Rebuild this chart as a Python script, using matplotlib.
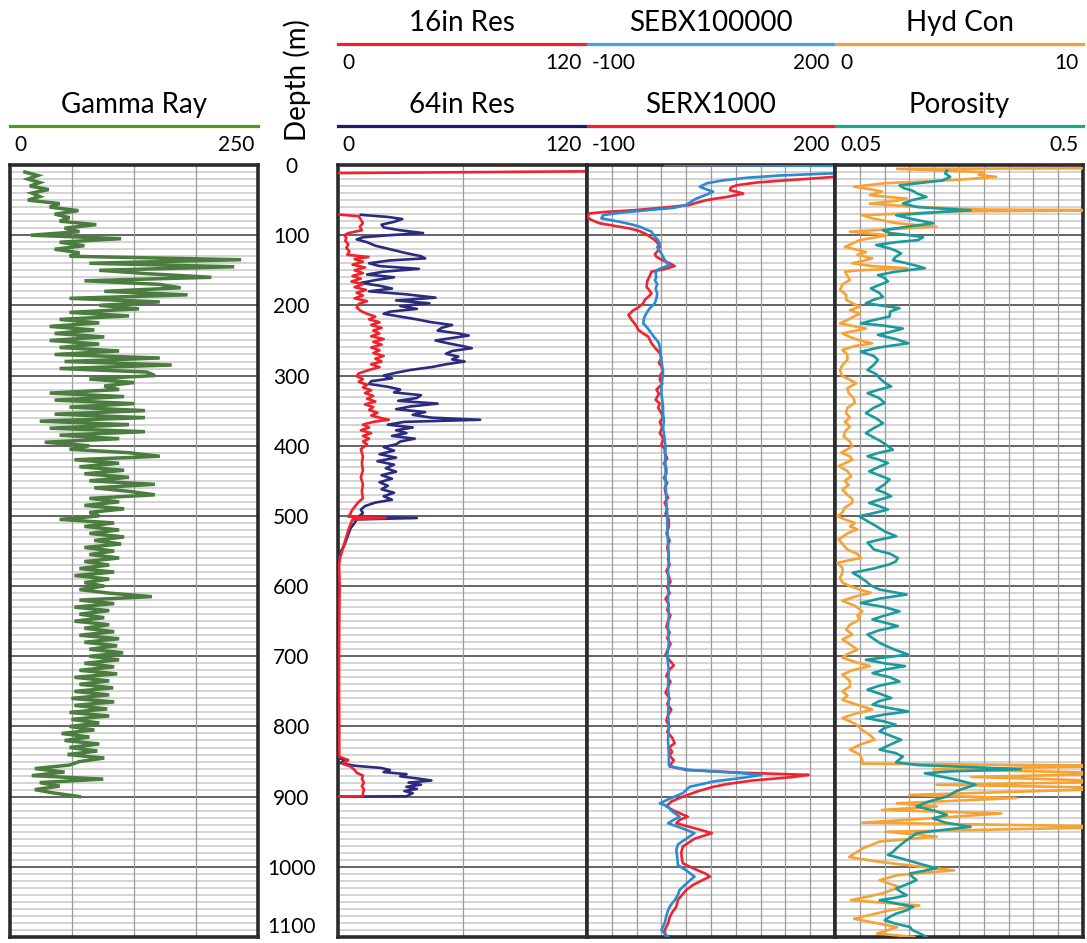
import numpy as np
import matplotlib.pyplot as plt
from matplotlib.lines import Line2D

plt.rcParams['font.family'] = ['Lato', 'DejaVu Sans']

# ---- data (depth in m) ----
gamma_start, gamma_step = 10, 5
gamma = [15, 28, 18, 30, 20, 39, 22, 30, 18, 50, 40, 69, 45, 60, 50, 87, 55, 70, 21, 112,
         50, 75, 45, 70, 60, 233, 80, 226, 90, 140, 203, 75, 150, 172, 95, 179, 60, 151, 90, 130,
         60, 120, 50, 90, 40, 85, 45, 95, 40, 90, 50, 110, 45, 151, 55, 163, 50, 138, 146, 80,
         125, 95, 110, 40, 115, 45, 125, 60, 136, 45, 136, 30, 120, 40, 136, 50, 110, 35, 80, 60,
         120, 151, 65, 110, 70, 115, 75, 120, 80, 146, 85, 120, 146, 80, 110, 75, 115, 80, 90, 50,
         105, 75, 110, 80, 115, 85, 112, 75, 105, 80, 110, 75, 100, 70, 105, 65, 100, 75, 95, 70,
         100, 143, 70, 105, 65, 100, 70, 95, 65, 100, 75, 105, 70, 110, 75, 108, 80, 114, 80, 110,
         75, 105, 70, 108, 65, 100, 70, 104, 65, 100, 62, 105, 65, 98, 60, 100, 62, 90, 60, 85,
         52, 80, 55, 90, 60, 88, 58, 95, 70, 60, 25, 55, 22, 94, 30, 50, 25, 45, 70]

nan = float('nan')
res16_pts = [(9.0, 122), (11.5, 0), (12, nan), (70.5, 0), (73, 10), (78, 11), (83, 12), (88, 10.5),
             (93, 11.5), (97, 5), (100, 3), (104, 4), (108, 3.5), (113, 5), (118, 4), (123, 5.5),
             (128, 4.5), (131, 14.7), (134, 8), (138, 12), (142, 7), (146, 13), (150, 8), (154, 12),
             (158, 7), (162, 11), (166, 6.5), (170, 12), (174, 8), (178, 13.5), (182, 9), (186, 12),
             (190, 8), (194, 14), (198, 10), (203, 9), (208, 11), (212, 14), (216, 18), (220, 15),
             (224, 20), (228, 16), (232, 21), (236, 17), (240, 20), (244, 16), (248, 22), (252, 17),
             (256, 21), (260, 16), (264, 20), (268, 17), (272, 22), (276, 18), (280, 21), (284, 16),
             (288, 20), (292, 15), (297, 10), (301, 9), (305, 12), (309, 10), (313, 14), (317, 12),
             (321, 16), (325, 13), (329, 17), (333, 14), (337, 18), (341, 13), (345, 17), (349, 15),
             (353, 19), (357, 16), (360, 20), (363, 24.5), (366, 17), (370, 12), (374, 15), (378, 11),
             (382, 16), (386, 12), (390, 15), (394, 12), (398, 14), (405, 11), (415, 12), (425, 11.5),
             (435, 12), (445, 11), (455, 12), (465, 11.5), (475, 12), (480, 10), (487, 8), (493, 6.5),
             (497, 6), (501, 5), (503, 23), (505, 7), (512, 6), (520, 5), (530, 4), (540, 3),
             (550, 2), (560, 1), (570, 0.5), (600, 0.8), (650, 0.6), (700, 0.5), (750, 0.5),
             (800, 0.6), (843, 0.6), (848, 5), (853, 2), (857, 6), (862, 8), (866, 9), (870, 12),
             (875, 11.5), (880, 12.5), (885, 11.5), (890, 12.5), (895, 12), (899.5, 12), (900, 0)]

res64_pts = [(71, 11), (74, 24), (77, 31), (81, 27), (85, 21), (89, 22), (93, 30), (97, 41),
             (100, 25), (103, 12), (106, 9), (110, 14), (115, 18), (120, 25), (125, 32), (130, 40),
             (133, 42), (136, 25), (140, 15), (144, 20), (148, 39), (152, 22), (156, 14), (160, 27),
             (164, 18), (168, 11), (172, 20), (176, 26), (180, 15), (184, 32), (189, 47), (193, 28),
             (197, 44), (201, 30), (205, 38), (209, 25), (212, 22), (216, 30), (220, 38), (224, 45),
             (228, 55), (232, 50), (236, 48), (240, 58), (243, 63), (246, 56), (250, 47), (254, 53),
             (258, 60), (261, 64.5), (265, 55), (269, 52), (273, 58), (277, 55), (280, 61), (284, 52),
             (288, 45), (292, 35), (296, 28), (300, 22), (304, 26), (308, 16), (312, 15), (316, 24),
             (320, 30), (324, 27), (328, 40), (332, 38), (336, 29), (340, 48), (344, 35), (348, 28),
             (352, 42), (356, 36), (360, 45), (363, 68.5), (366, 32), (370, 24), (374, 36), (378, 28),
             (382, 33), (386, 26), (390, 37), (394, 30), (398, 28), (402, 22), (407, 27), (412, 20),
             (417, 28), (422, 19), (427, 27), (432, 23), (437, 28), (442, 21), (447, 26), (452, 20),
             (457, 24), (462, 21), (467, 27), (472, 22), (477, 26), (481, 18), (486, 13), (491, 11),
             (496, 12), (501, 10), (503, 38), (505, 9), (510, 8), (518, 6), (526, 5), (534, 4),
             (542, 3), (550, 1.5), (555, 0.5), (560, 0.3), (600, 0.2), (700, 0.2), (800, 0.2),
             (845, 0.3), (848, 4), (852, 1), (856, 8), (859, 20.4), (862, 25), (865, 22), (868, 33),
             (871, 30), (874, 38), (877, 45), (880, 34), (883, 40), (886, 33), (889, 38), (892, 32),
             (895, 36), (899.5, 33), (900, 0)]

sebx_pts = [(0, -5), (1.5, 260), (8, 260), (12, 195), (15, 133), (18, 95), (21.8, 65), (26, 45),
            (31, 36.5), (35, 45), (38, 52.6), (42, 45), (48, 32), (53, 25), (57, 20), (61, 5),
            (64.5, -28), (68, -60), (71.5, -80.6), (76, -82.6), (81, -60), (85, -45), (88, -36),
            (95, -22), (102, -18), (107, -14), (112, -12), (117, -15), (121, -13), (126, -10),
            (131, -8), (135.5, -6), (140, -3), (142.6, 0), (146, -8), (150, -16), (155, -17),
            (160, -16), (164, -18), (170, -15), (176, -17), (183, -15), (190, -16), (197, -18),
            (204, -24), (211, -28), (218, -31), (225.6, -32), (232, -27), (240, -22), (245, -19),
            (249, -16), (254, -13), (259, -12), (268, -11), (278, -10), (287, -9), (297, -8),
            (306, -9), (315, -10), (325, -10), (335, -9), (345, -8), (353.6, -8), (365, -7),
            (375, -8), (382, -7), (392, -6), (401, -5), (415, -5.5), (430, -5), (448, -5),
            (465, -4.5), (480, -4), (496, -3), (515, -3), (538, -2), (562, -1), (580, -2),
            (600, -1.5), (620, -2), (640, -1), (660, -2), (680, -1), (700, -3), (720, -1),
            (740, -2), (760, -1), (780, -2), (800, -1), (820, -2), (840, -1), (855, -1), (858, 5),
            (862, 24), (866, 80), (869, 111), (873, 90), (878, 55), (886, 24), (895, 16), (903, 0),
            (909.5, -12), (914, -2), (920, 2), (928.6, 12), (933, 5), (938, -2), (945, 15),
            (952, 30), (960, 20), (968, 10), (976, 8), (985, 9), (997.6, 10), (1005, 20),
            (1014, 30), (1022, 22), (1033, 12), (1040, 10), (1047.6, 6), (1055, 1), (1062, -2),
            (1070, -4), (1080, -6), (1090, -10), (1100, -2)]

serx_pts = [(0, -4), (1, 260), (8, 280), (14, 220), (17, 198), (19.5, 170), (21.8, 141), (25, 105),
            (28.9, 81), (32, 74), (36, 73), (39, 84), (40.8, 89), (43, 80), (45.5, 69), (48, 55),
            (50, 44.6), (54, 32), (57, 24), (61, -10), (64.5, -44), (67, -80), (69, -97), (74, -100),
            (78, -95), (83, -85), (87, -65), (90.5, -48), (94, -37), (97.6, -30), (102, -24),
            (107, -18), (112, -14), (116.6, -12), (122, -14), (127, -18), (130.8, -16), (135, -10),
            (140, 0), (144, 6), (148, -5), (152, -22), (158, -24), (165, -27), (173.5, -28),
            (178, -25), (183, -22), (188, -26), (192, -30), (197, -32), (203, -38), (208, -45),
            (213.7, -50), (217, -48), (220.8, -46), (225, -43), (230, -40), (235, -38), (240, -32),
            (244.5, -26), (249, -24), (254, -22), (260, -18), (264, -15), (268, -12), (275, -10),
            (282, -13), (287, -10), (293, -8), (299, -11), (306, -12), (312, -9), (320, -16),
            (326, -13), (334.6, -17), (340, -12), (346, -14), (353.6, -10), (360, -8), (366, -12),
            (374, -9), (382, -12), (390, -7), (398, -10), (405, -6), (410, -6), (418, -3), (425, -7),
            (432, -4), (439, -4), (446, -7), (453, -3), (460, -6), (467, -5), (474, -2), (481, -6),
            (490, -3), (497, -5), (505, -1), (515, -1), (525, -4), (535, 0), (545, -3), (555, -1),
            (562, -2), (570, 0), (578, -4), (586, -1), (594, 1), (602, -3), (610, 0), (618, -5),
            (626, -1), (634, -3), (642, 1), (650, -2), (658, -4), (666, 0), (674, -3), (682, 1),
            (690, -2), (698, -5), (706, 0), (713, 5), (720, -1), (728, -4), (736, 1), (744, -2),
            (752, -5), (760, 0), (768, -3), (776, 2), (784, -2), (792, -4), (800, 0), (808, -3),
            (816, 3), (824, 6), (830, -1), (836, 3), (842, 0), (848, 5), (853, 2), (857, 0),
            (862, 20), (866, 90), (869, 168), (872, 150), (877, 100), (882, 70), (886, 53),
            (892, 35), (900, 16), (907, 2), (914, -4), (920, 5), (928.6, 22), (933, 12), (938, 8),
            (945, 30), (952, 51), (960, 30), (971, 16), (980, 14), (990, 15), (995, 16), (1003, 30),
            (1010, 44), (1014, 48.6), (1020, 38), (1026, 28), (1033, 20), (1040, 15), (1047, 10),
            (1057, 8), (1065, 3), (1072, 0), (1081, -2), (1090, -6), (1100, -5)]

hydcon_pts = [(4.5, 12), (5.5, 2.5), (10, 6.0), (14, 5.8), (17, 6.5), (21, 5.0), (26, 2.0), (31, 0.77),
              (35, 1.5), (38, 1.9), (43, 1.4), (48, 2.9), (51, 2.5), (55, 1.4), (59, 3.0), (62, 4.9),
              (63.5, 6), (64.5, 12), (66, 5), (71.5, 1.1), (76, 1.5), (83, 2.5), (88, 4.1), (91, 2.5),
              (95, 0.6), (100, 2.1), (104, 1.5), (107, 1.0), (112, 0.7), (116.6, 0.4), (120, 0.8),
              (124, 1.25), (128, 0.9), (133, 1.5), (136, 1.2), (140, 0.7), (144, 1.5), (147, 2.9),
              (150, 1.0), (152, 0.4), (158, 0.5), (164, 0.6), (170, 0.3), (178, 0.2), (185, 0.45),
              (192, 0.45), (197, 0.7), (202, 1.0), (207, 0.6), (212, 1.0), (216, 0.75), (221, 0.5),
              (225.6, 0.2), (230, 0.8), (233, 1.25), (237, 0.7), (240, 0.3), (245, 0.6), (250, 1.0),
              (254, 1.5), (258, 0.8), (263.5, 0.3), (270, 0.5), (277.7, 0.5), (285, 0.3), (292, 0.2),
              (301, 0.3), (306, 0.6), (311, 0.85), (318, 0.5), (325, 0.55), (332, 0.75), (339, 0.8),
              (346, 0.5), (353.6, 0.45), (360, 0.6), (366, 0.4), (372.5, 0.6), (380, 0.4),
              (386.7, 0.35), (394, 0.6), (401, 0.7), (405, 0.5), (410, 0.25), (415, 0.6), (420, 0.7),
              (425, 0.4), (429, 0.15), (436, 0.5), (443.6, 0.65), (450, 0.4), (456, 0.55),
              (462.6, 0.3), (470, 0.5), (476, 0.7), (481.5, 0.7), (488, 0.4), (495, 0.3),
              (500.5, 0.1), (505, 0.4), (510, 0.8), (515, 0.6), (519, 0.9), (525, 0.5), (533.6, 0.15),
              (540, 0.3), (548, 0.5), (554, 0.9), (560, 1.05), (563, 0.6), (567, 0.1), (574, 0.3),
              (581, 0.3), (588, 0.2), (595, 0.3), (600, 0.6), (605, 1.0), (609.5, 1.45), (615, 0.8),
              (621, 0.3), (628, 0.8), (636, 1.1), (642, 0.9), (647.6, 1.0), (655, 0.6), (662, 0.45),
              (669, 0.7), (676, 0.3), (683, 0.6), (690.5, 0.9), (697, 0.5), (702, 0.3), (708, 0.8),
              (714, 1.4), (720, 0.7), (726, 0.3), (735, 0.6), (743, 0.6), (750, 0.3), (756, 0.5),
              (762, 0.3), (768, 0.8), (776, 1.5), (782, 0.8), (788, 0.3), (796, 0.8), (805, 1.1),
              (812, 1.4), (819, 1.6), (826, 1.0), (833, 0.6), (840, 1.0), (848, 1.1), (853, 1.1),
              (856, 12), (861, 3.96), (866.7, 12), (872, 5.5), (878.6, 12), (883, 4.1), (888, 12),
              (897.6, 3.0), (902, 7.3), (909.5, 2.5), (914, 4.1), (919, 1.9), (924, 6.7), (931, 3.8),
              (937, 1.1), (943, 12), (950, 2.1), (957, 4.1), (964, 1.8), (974, 1.1), (986, 0.57),
              (993, 1.8), (1002, 4.0), (1005, 4.8), (1012, 2.5), (1019, 1.8), (1029, 2.6), (1038, 1.9),
              (1047.6, 0.64), (1055, 3.4), (1062, 2.2), (1074, 0.77), (1086, 2.5), (1095, 1.7),
              (1100, 3.2)]

poro_pts = [(8, 0.253), (12, 0.250), (17, 0.259), (22, 0.245), (26, 0.20), (29, 0.167), (33, 0.175),
            (36, 0.189), (41, 0.20), (45.5, 0.216), (50, 0.19), (55, 0.173), (60, 0.20), (64.5, 0.296),
            (67, 0.24), (71.5, 0.161), (77, 0.19), (83, 0.228), (88, 0.18), (93, 0.137), (97, 0.15),
            (100, 0.185), (103, 0.21), (107, 0.201), (110, 0.16), (114, 0.125), (119, 0.15),
            (122, 0.16), (126, 0.170), (131, 0.16), (135.5, 0.155), (140, 0.18), (144, 0.20),
            (147, 0.213), (152, 0.16), (157, 0.128), (161, 0.14), (166, 0.146), (171, 0.13),
            (175.8, 0.115), (182, 0.13), (188, 0.137), (192, 0.12), (197, 0.106), (204, 0.167),
            (209, 0.15), (216, 0.149), (221, 0.12), (225.6, 0.097), (229, 0.14), (233, 0.173),
            (238, 0.15), (242, 0.128), (248, 0.16), (254, 0.183), (260, 0.13), (266, 0.097),
            (272, 0.12), (277.7, 0.128), (285, 0.12), (292, 0.109), (298, 0.125), (303.8, 0.131),
            (310, 0.14), (315.6, 0.152), (320, 0.13), (325, 0.109), (332, 0.13), (339, 0.140),
            (346, 0.12), (353.6, 0.106), (361, 0.125), (368, 0.137), (375, 0.12), (382, 0.106),
            (388, 0.12), (394, 0.134), (400, 0.145), (405.7, 0.155), (410, 0.13), (415, 0.109),
            (420, 0.13), (424.6, 0.146), (430, 0.13), (436.5, 0.112), (442, 0.13), (448, 0.149),
            (455, 0.14), (462.6, 0.125), (467, 0.14), (472, 0.152), (477, 0.13), (481.5, 0.112),
            (486, 0.13), (491, 0.146), (496, 0.12), (500.5, 0.094), (508, 0.11), (514.7, 0.125),
            (522, 0.14), (529, 0.161), (534, 0.13), (538, 0.109), (543, 0.115), (548, 0.121),
            (554, 0.15), (560, 0.164), (565, 0.16), (569, 0.149), (575, 0.12), (581, 0.082),
            (587, 0.095), (593, 0.106), (599, 0.115), (605, 0.131), (612, 0.180), (618, 0.13),
            (624, 0.097), (630, 0.14), (636, 0.167), (642, 0.14), (647.6, 0.118), (652, 0.14),
            (657, 0.164), (663, 0.13), (669, 0.109), (675, 0.12), (681, 0.131), (686, 0.145),
            (690.5, 0.158), (697.6, 0.183), (705, 0.106), (710, 0.14), (714, 0.177), (719, 0.14),
            (724, 0.118), (730, 0.15), (736, 0.167), (742, 0.13), (747.6, 0.109), (753, 0.13),
            (759.5, 0.152), (764, 0.13), (769, 0.118), (774, 0.15), (778.6, 0.183), (783, 0.14),
            (788, 0.106), (793, 0.14), (797.6, 0.160), (802, 0.14), (807, 0.131), (813, 0.15),
            (819, 0.170), (826, 0.15), (833, 0.131), (838, 0.16), (843, 0.173), (848, 0.165),
            (851, 0.161), (855, 0.20), (858, 0.30), (861, 0.387), (864, 0.26), (866.7, 0.213),
            (871, 0.24), (876, 0.271), (883, 0.305), (892, 0.27), (900, 0.253), (907, 0.22),
            (914, 0.198), (920, 0.23), (926, 0.253), (931, 0.228), (937, 0.25), (943, 0.296),
            (948, 0.24), (952, 0.198), (957, 0.19), (962, 0.180), (968, 0.17), (974, 0.161),
            (979, 0.155), (983, 0.146), (988, 0.17), (993, 0.192), (997, 0.21), (1002, 0.234),
            (1006, 0.21), (1009.5, 0.186), (1014, 0.19), (1019, 0.198), (1025, 0.18), (1031, 0.161),
            (1036, 0.17), (1040.5, 0.180), (1044, 0.16), (1047.6, 0.131), (1052, 0.16),
            (1057, 0.192), (1062, 0.18), (1066.7, 0.161), (1071, 0.15), (1076, 0.140), (1081, 0.16),
            (1085.7, 0.186), (1090, 0.19), (1095, 0.204), (1100, 0.216)]

depth_ticks = list(range(0, 1101, 100))

# ---- layout (pixel based) ----
W, H = 1087, 943
TOP, BOT = 165, 937
fig = plt.figure(figsize=(W / 100, H / 100), dpi=100)


def fx(x):
    return x / W


def fy(y):
    return 1 - y / H


def track(x0, x1, xlim, vlines):
    ax = fig.add_axes([fx(x0), fy(BOT), (x1 - x0) / W, (BOT - TOP) / H])
    ax.set_xlim(*xlim)
    ax.set_ylim(1100, 0)
    for d in range(10, 1100, 10):
        if d % 100:
            ax.axhline(d, color='#d4d4d4', lw=1.4, zorder=0)
    for d in range(100, 1100, 100):
        ax.axhline(d, color='#3a3a3a', lw=1.1, zorder=1)
    for v in vlines:
        ax.axvline(v, color='#9a9a9a', lw=0.9, zorder=1)
    ax.set_xticks([])
    ax.tick_params(left=False, labelleft=False)
    for s in ax.spines.values():
        s.set_linewidth(2.6)
        s.set_color('#2b2b2b')
    return ax


def header(x0, x1, yline, title, color, lo, hi):
    fig.text(fx((x0 + x1) / 2), fy(yline - 21), title, ha='center', va='center', fontsize=20)
    fig.add_artist(Line2D([fx(x0), fx(x1)], [fy(yline)] * 2, color=color, lw=2.3))
    fig.text(fx(x0 + 4), fy(yline + 19), lo, ha='left', va='center', fontsize=15)
    fig.text(fx(x1 - 4), fy(yline + 19), hi, ha='right', va='center', fontsize=15)


def split(pts):
    d, v = zip(*pts)
    return np.array(d), np.array(v, dtype=float)


# gamma ray track
ax1 = track(10, 258, (0, 250), [62.5, 125, 187.5])
gd = gamma_start + gamma_step * np.arange(len(gamma))
ax1.plot(gamma, gd, color='#4a7d3e', lw=2.5, zorder=3, solid_joinstyle='miter')
header(10, 258, 126, 'Gamma Ray', '#4c9a1e', '0', '250')

# resistivity track
ax2 = track(338, 587, (0, 120), [60])
d, v = split(res64_pts)
ax2.plot(v, d, color='#2b2c80', lw=1.9, zorder=3)
d, v = split(res16_pts)
ax2.plot(v, d, color='#f0222b', lw=1.9, zorder=4)
ax2.set_yticks(depth_ticks)
ax2.tick_params(left=False, labelleft=True, pad=30, labelsize=15)
for lab in ax2.get_yticklabels():
    lab.set_ha('center')
ax2.get_yticklabels()[-1].set_va('bottom')
header(338, 586, 44, '16in Res', '#f0222b', '0', '120')
header(338, 586, 126, '64in Res', '#1c1c6e', '0', '120')

# SE track
ax3 = track(587, 835, (-100, 200), np.arange(-70, 200, 30))
d, v = split(serx_pts)
ax3.plot(v, d, color='#ee2430', lw=1.9, zorder=3)
d, v = split(sebx_pts)
ax3.plot(v, d, color='#2a8ad6', lw=1.9, zorder=4)
header(588, 833, 44, 'SEBX100000', '#3d9ff0', '-100', '200')
header(588, 833, 126, 'SERX1000', '#f0222b', '-100', '200')

# hydraulic conductivity / porosity track
ax4 = track(835, 1083, (0, 10), range(1, 10))
d, v = split(hydcon_pts)
ax4.plot(v, d, color='#f7a235', lw=1.9, zorder=3)
axp = ax4.twiny()
axp.set_xlim(0.05, 0.5)
axp.set_ylim(1100, 0)
axp.set_xticks([])
for s in axp.spines.values():
    s.set_visible(False)
d, v = split(poro_pts)
axp.plot(v, d, color='#1b9a9e', lw=1.9, zorder=3)
header(836, 1083, 44, 'Hyd Con', '#f5a030', '0', '10')
header(836, 1083, 126, 'Porosity', '#19a98a', '0.05', '0.5')

fig.text(fx(297), fy(80), 'Depth (m)', rotation=90, ha='center', va='center', fontsize=20)

fig.savefig('out.png', dpi=100)
